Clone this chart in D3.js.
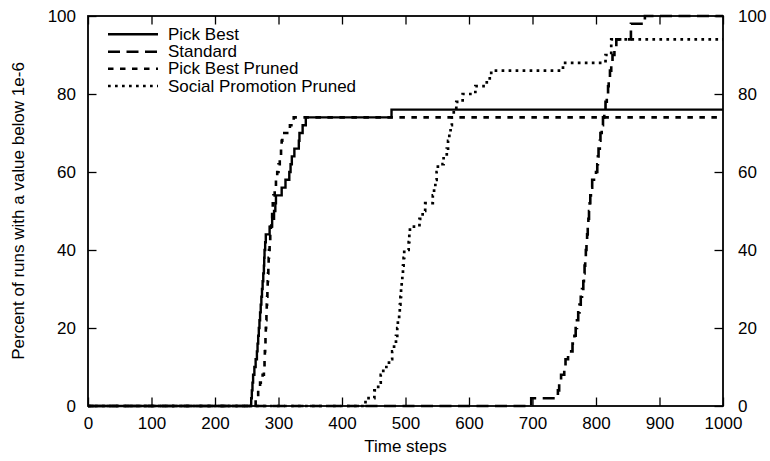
<!DOCTYPE html>
<html>
<head>
<meta charset="utf-8">
<script src="https://cdn.jsdelivr.net/npm/d3@7"></script>
<style>
  html, body { margin: 0; padding: 0; background: #fff; }
  svg { display: block; }
  text { font-family: "Liberation Sans", Arial, Helvetica, sans-serif; font-size: 17px; fill: #000; }
</style>
</head>
<body>
<svg id="chart" width="770" height="461"></svg>
<script>
// Step data: [time step, percent of runs] at each change point
const pickBest = [[0,0],[257,2],[258,4],[259,6],[260,8],[262,10],[264,12],[266,14],[267,16],[268,18],[269,20],[270,22],[271,24],[272,26],[273,28],[274,30],[275,32],[276,34],[277,36],[277.5,38],[278,40],[279,42],[280,44],[286,46],[290,48],[293,50],[295,52],[296,54],[305,56],[311,58],[317,60],[319,62],[321,64],[325,66],[332,68],[333,70],[338,72],[343,74],[478,76]];
const standard = [[0,0],[698,2],[740,4],[742,6],[745,8],[750,10],[752,12],[756,14],[763,16],[766,18],[768,20],[770,22],[772,24],[774,26],[776,28],[778,30],[780,32],[781,34],[782,36],[783,38],[784,40],[785,42],[786,44],[787,46],[788,48],[789,50],[790,52],[791,54],[792,56],[794,58],[800,60],[802,62],[803,64],[804,66],[806,68],[807,70],[809,72],[811,74],[813,76],[815,78],[817,80],[819,82],[820,84],[822,86],[824,88],[826,90],[829,92],[832,94],[855,98],[877,100]];
const pickBestPruned = [[0,0],[264,2],[268,4],[271,6],[275,8],[277,10],[278,12],[278.5,14],[279,16],[279.5,18],[280,20],[280.5,22],[281,24],[281.5,26],[282,28],[282.5,30],[283,32],[283.5,34],[284,36],[284.5,38],[285,40],[286,42],[287,44],[288,46],[289,48],[290,50],[291,52],[292,54],[294,56],[296,58],[298,60],[300,62],[302,64],[304,66],[305,68],[306,70],[318,72],[324,74]];
const socialPromotionPruned = [[0,0],[437,2],[451,4],[457,6],[461,8],[465,10],[474,12],[479,14],[482,16],[485,18],[487,20],[488,22],[490,24],[491,26],[492,28],[493,30],[494,32],[495,34],[496,36],[497,38],[498,40],[505,42],[506,44],[507,46],[522,48],[527,50],[531,52],[543,54],[545,56],[547,58],[549,60],[551,62],[560,64],[565,66],[567,68],[569,70],[571,72],[573,74],[576,76],[580,78],[590,80],[610,82],[628,84],[635,86],[748,88],[815,90],[824,94]];

const seriesNames = ["Pick Best", "Standard", "Pick Best Pruned", "Social Promotion Pruned"];
const xTicks = [0,100,200,300,400,500,600,700,800,900,1000];
const yTicks = [0,20,40,60,80,100];
const xMax = 1000;

const styles = [
  { width: 2.4, dash: null },
  { width: 2.6, dash: "12,6.5" },
  { width: 2.6, dash: "5.5,6.5" },
  { width: 2.7, dash: "2.7,4.3" }
];

const svg = d3.select("#chart");
const plotLeft = 88, plotRight = 723, plotTop = 16, plotBottom = 406;

const x = d3.scaleLinear().domain([0, xMax]).range([plotLeft, plotRight]);
const y = d3.scaleLinear().domain([0, 100]).range([plotBottom, plotTop]);
const tickLen = 8.5;

function styleAxis(g) {
  g.select(".domain").remove();
  g.selectAll(".tick line").attr("stroke", "#000").attr("stroke-width", 1.3);
  g.selectAll(".tick text").style("font-size", "17px").attr("fill", "#000");
}

svg.append("g").attr("transform", `translate(0,${plotBottom})`)
  .call(d3.axisBottom(x).tickValues(xTicks).tickSize(-tickLen).tickPadding(11).tickFormat(d3.format("d")))
  .call(styleAxis);
svg.append("g").attr("transform", `translate(0,${plotTop})`)
  .call(d3.axisTop(x).tickValues(xTicks).tickSize(-tickLen).tickFormat(""))
  .call(styleAxis);
svg.append("g").attr("transform", `translate(${plotLeft},0)`)
  .call(d3.axisLeft(y).tickValues(yTicks).tickSize(-tickLen).tickPadding(12))
  .call(styleAxis);
svg.append("g").attr("transform", `translate(${plotRight},0)`)
  .call(d3.axisRight(y).tickValues(yTicks).tickSize(-tickLen).tickPadding(15))
  .call(styleAxis);

// plot frame
svg.append("rect")
  .attr("x", plotLeft).attr("y", plotTop)
  .attr("width", plotRight - plotLeft).attr("height", plotBottom - plotTop)
  .attr("fill", "none").attr("stroke", "#000").attr("stroke-width", 1.8);

const line = d3.line()
  .x(d => x(d[0]))
  .y(d => y(d[1]))
  .curve(d3.curveStepAfter);

const allSeries = [pickBest, standard, pickBestPruned, socialPromotionPruned];
allSeries.forEach((s, i) => {
  const pts = s.concat([[xMax, s[s.length - 1][1]]]);
  svg.append("path")
    .datum(pts)
    .attr("d", line)
    .attr("fill", "none")
    .attr("stroke", "#000")
    .attr("stroke-width", styles[i].width)
    .attr("stroke-dasharray", styles[i].dash)
    .attr("stroke-linecap", "butt");
});

// legend
const legendY = [34.3, 51.7, 68.8, 86];
seriesNames.forEach((name, i) => {
  svg.append("line")
    .attr("x1", 108).attr("x2", 158)
    .attr("y1", legendY[i]).attr("y2", legendY[i])
    .attr("stroke", "#000")
    .attr("stroke-width", styles[i].width)
    .attr("stroke-dasharray", styles[i].dash);
  svg.append("text")
    .attr("x", 168).attr("y", legendY[i] + 5.6)
    .text(name);
});

// axis titles
svg.append("text")
  .attr("x", (plotLeft + plotRight) / 2).attr("y", 452)
  .attr("text-anchor", "middle")
  .text("Time steps");
svg.append("text")
  .attr("transform", `translate(24,${(plotTop + plotBottom) / 2}) rotate(-90)`)
  .attr("text-anchor", "middle")
  .text("Percent of runs with a value below 1e-6");
</script>
</body>
</html>
